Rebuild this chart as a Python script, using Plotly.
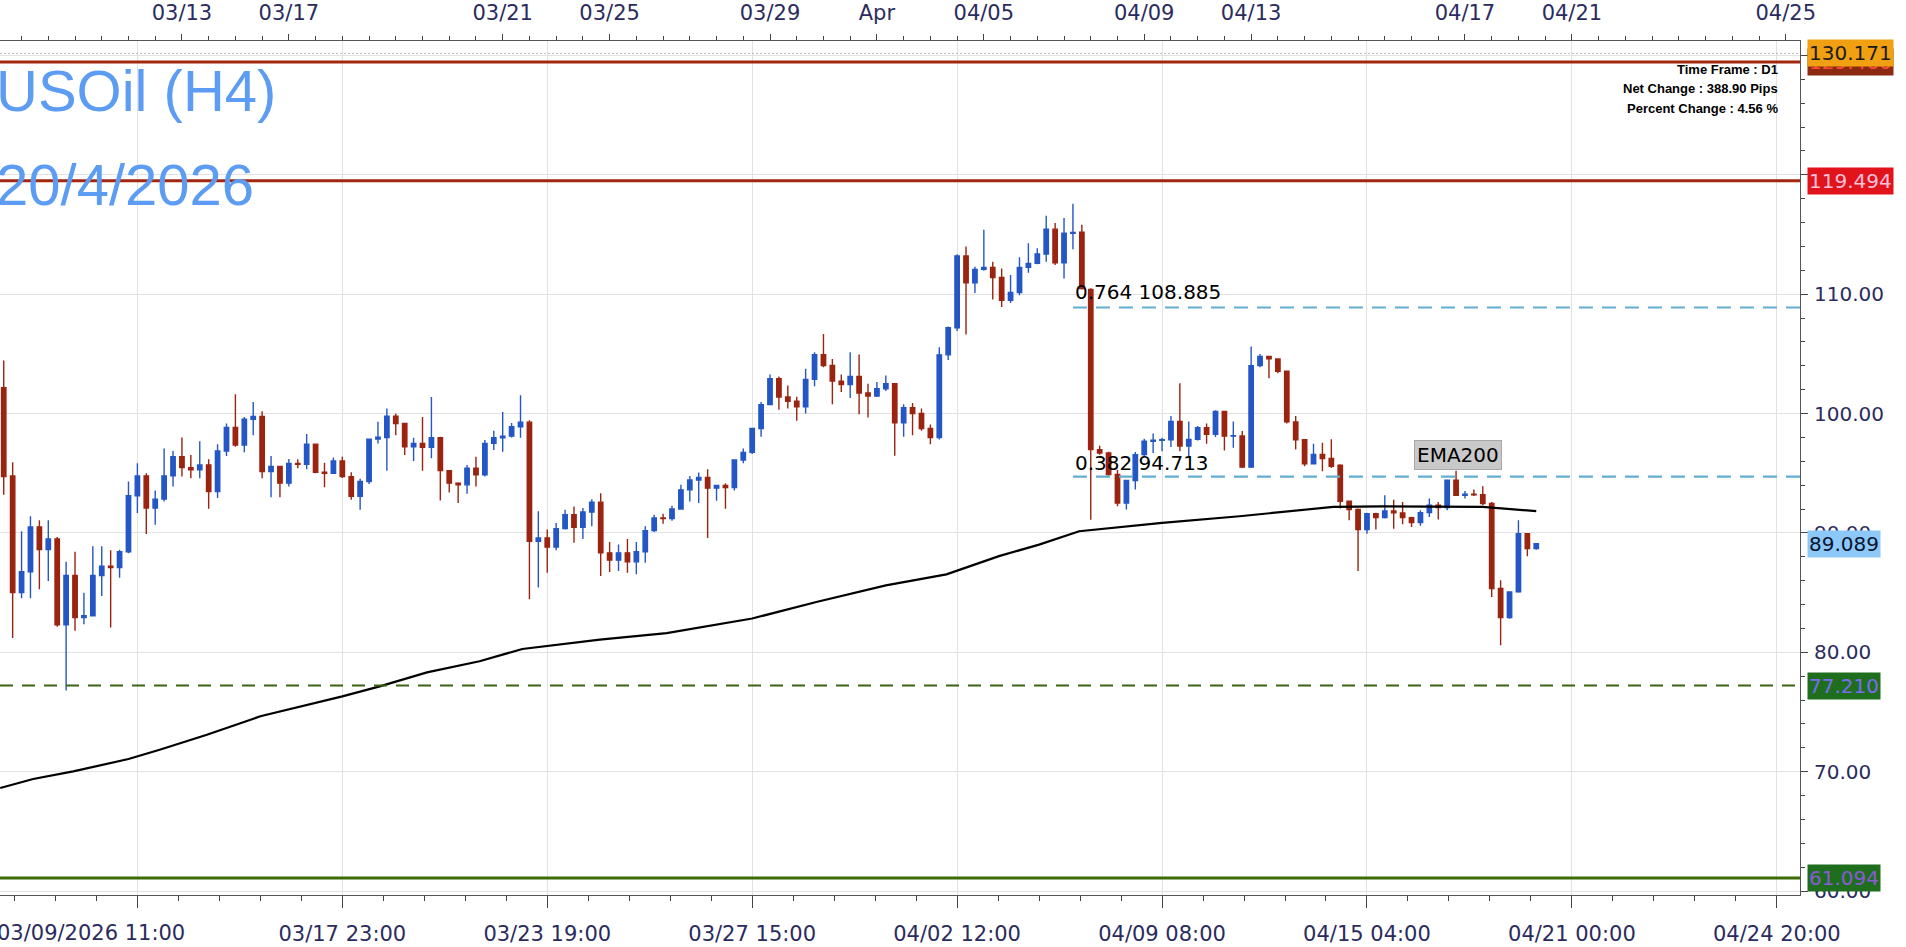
import plotly.graph_objects as go

# ---------------- data ----------------
bar_index = list(range(-15, 158))

opens = [102.17, 94.78, 85.0, 86.75, 90.5, 88.61, 89.5, 82.31, 86.44, 82.92,
         83.06, 86.44, 87.22, 87.1, 88.42, 93.11, 94.78, 92.08, 92.83, 94.78,
         96.39, 95.47, 95.28, 95.69, 93.47, 96.86, 98.83, 97.36, 99.53, 99.75,
         95.14, 95.56, 94.17, 95.83, 95.75, 97.44, 95.08, 95.0, 96.03, 94.72,
         93.06, 94.31, 97.86, 98.0, 99.78, 99.17, 97.22, 97.5, 97.17, 97.97,
         95.22, 94.17, 94.03, 95.42, 94.86, 97.5, 97.97, 98.11, 98.89, 99.28,
         89.31, 89.58, 88.81, 90.36, 91.53, 90.47, 91.75, 92.58, 88.33, 87.72,
         88.33, 87.58, 88.42, 90.19, 91.25, 91.2, 92.0, 93.61, 94.44, 94.64,
         93.75, 93.97, 93.8, 96.11, 96.75, 98.75, 100.75, 102.92, 101.39, 101.03,
         100.56, 102.86, 104.94, 104.03, 102.72, 102.44, 103.11, 101.72, 101.47, 102.08,
         102.5, 99.22, 100.5, 100.0, 98.75, 98.0, 104.92, 107.19, 113.2, 110.96,
         112.08, 112.25, 111.4, 109.49, 110.14, 112.25, 112.58, 113.37, 115.45, 112.64,
         115.11, 115.2, 110.4, 96.98, 96.7, 94.89, 92.51, 94.39, 96.56, 97.68,
         97.77, 97.81, 99.33, 97.28, 97.84, 98.82, 98.26, 100.17, 98.12, 98.12,
         95.53, 104.02, 104.78, 104.58, 103.54, 99.3, 97.81, 95.79, 96.57, 96.24,
         95.67, 92.65, 91.96, 90.28, 91.62, 91.28, 91.84, 91.68, 91.28, 90.87,
         91.7, 92.32, 92.12, 94.41, 93.16, 93.24, 93.2, 92.46, 85.34, 82.91,
         85.06, 89.94, 88.69]

highs = [104.44, 95.92, 90.14, 91.39, 91.06, 91.06, 89.67, 87.58, 88.42, 85.0,
         88.89, 88.89, 88.56, 88.6, 94.3, 95.83, 95.0, 93.56, 97.08, 96.86,
         98.0, 96.53, 97.69, 96.17, 97.42, 99.17, 101.61, 99.72, 100.97, 100.19,
         96.44, 95.6, 96.19, 96.17, 98.28, 97.5, 95.89, 96.33, 96.39, 95.08,
         94.53, 97.9, 99.31, 100.42, 100.0, 99.2, 97.97, 99.72, 101.39, 98.05,
         95.25, 94.25, 95.69, 96.39, 97.78, 98.56, 100.14, 99.22, 101.53, 99.44,
         91.81, 90.28, 90.83, 91.94, 92.22, 92.08, 92.83, 93.33, 89.25, 89.03,
         89.5, 89.25, 90.56, 91.53, 91.61, 92.28, 94.03, 94.78, 95.06, 95.33,
         93.98, 94.17, 96.15, 97.08, 98.8, 100.97, 103.28, 103.11, 102.36, 101.4,
         103.75, 105.14, 106.67, 104.58, 103.28, 105.14, 104.94, 102.5, 102.64, 103.19,
         102.55, 100.78, 100.89, 100.42, 99.08, 105.56, 107.3, 113.34, 113.99, 112.3,
         115.39, 112.72, 112.16, 111.6, 113.09, 114.27, 113.85, 116.57, 115.96, 116.38,
         117.58, 115.81, 110.5, 97.3, 96.8, 95.3, 94.45, 96.79, 97.88, 98.32,
         97.98, 99.8, 102.53, 99.33, 98.96, 99.16, 100.28, 100.2, 99.33, 98.54,
         105.62, 105.0, 104.8, 104.6, 103.6, 99.8, 97.85, 97.47, 97.56, 97.84,
         95.75, 92.7, 92.04, 91.7, 91.7, 93.16, 92.79, 92.6, 91.35, 91.9,
         92.88, 92.6, 94.45, 95.2, 93.52, 93.63, 93.91, 92.6, 86.03, 85.1,
         91.06, 90.0, 89.1]

lows = [93.19, 81.19, 84.53, 84.53, 85.28, 85.97, 82.14, 76.8, 81.8, 82.36,
        83.0, 84.72, 82.08, 86.25, 88.3, 91.67, 89.92, 90.69, 92.64, 93.89,
        94.72, 94.58, 94.58, 92.03, 92.92, 96.44, 97.22, 96.75, 98.19, 94.58,
        93.0, 93.0, 93.89, 95.42, 95.33, 95.0, 93.83, 94.95, 94.6, 92.78,
        91.94, 94.11, 97.5, 95.22, 98.19, 96.53, 96.03, 95.22, 96.25, 92.72,
        93.39, 92.5, 93.28, 93.89, 94.72, 96.94, 96.81, 98.0, 97.97, 84.44,
        85.42, 86.67, 88.56, 90.28, 89.17, 89.5, 90.56, 86.39, 86.72, 86.81,
        86.67, 86.53, 87.5, 90.08, 90.78, 91.03, 91.95, 92.64, 92.5, 89.58,
        92.69, 92.03, 93.56, 95.83, 96.61, 98.06, 100.7, 100.33, 100.42, 99.39,
        100.0, 102.28, 103.89, 100.78, 101.81, 101.31, 99.94, 99.67, 101.39, 101.89,
        96.47, 98.06, 98.19, 98.56, 97.44, 97.83, 104.49, 106.91, 106.63, 110.11,
        111.97, 109.55, 108.93, 109.27, 109.92, 111.8, 112.5, 112.72, 112.44, 111.32,
        113.76, 110.4, 91.1, 96.56, 94.8, 92.23, 91.96, 93.63, 96.42, 96.7,
        96.85, 97.19, 96.85, 96.42, 97.75, 97.47, 98.03, 96.91, 97.13, 95.45,
        95.45, 103.88, 102.95, 103.37, 99.16, 96.99, 95.59, 95.75, 95.17, 95.45,
        92.04, 91.06, 86.82, 89.94, 90.28, 91.2, 90.36, 90.73, 90.5, 90.6,
        91.34, 91.12, 91.9, 93.1, 92.88, 93.1, 92.32, 84.64, 80.6, 82.82,
        85.0, 88.04, 88.6]

closes = [94.72, 85.0, 86.75, 90.5, 88.61, 89.5, 82.31, 86.44, 82.92, 83.06,
          86.44, 87.22, 87.1, 88.42, 93.11, 94.78, 92.08, 92.83, 94.78, 96.39,
          95.47, 95.28, 95.69, 93.47, 96.86, 98.83, 97.36, 99.53, 99.75, 95.14,
          95.56, 94.17, 95.83, 95.75, 97.44, 95.08, 95.0, 96.03, 94.72, 93.06,
          94.31, 97.86, 98.03, 99.78, 99.17, 97.22, 97.5, 97.17, 97.97, 95.22,
          94.17, 94.03, 95.42, 94.86, 97.5, 97.97, 98.11, 98.89, 99.28, 89.31,
          89.58, 88.81, 90.36, 91.53, 90.47, 91.75, 92.58, 88.33, 87.72, 88.33,
          87.58, 88.42, 90.19, 91.25, 91.2, 92.0, 93.61, 94.44, 94.64, 93.75,
          93.97, 93.8, 96.11, 96.75, 98.75, 100.75, 102.92, 101.39, 101.03, 100.56,
          102.86, 104.94, 104.03, 102.72, 102.44, 103.11, 101.72, 101.47, 102.08, 102.5,
          99.22, 100.5, 100.0, 98.75, 98.0, 104.92, 107.19, 113.2, 110.96, 112.08,
          112.25, 111.4, 109.49, 110.14, 112.25, 112.58, 113.37, 115.45, 112.64, 115.11,
          115.17, 110.48, 96.98, 96.7, 94.89, 92.51, 94.39, 96.56, 97.68, 97.77,
          97.81, 99.33, 97.28, 97.84, 98.82, 98.26, 100.17, 98.12, 98.15, 95.53,
          104.02, 104.78, 104.58, 103.54, 99.3, 97.81, 95.79, 96.57, 96.24, 95.59,
          92.65, 91.96, 90.28, 91.62, 91.28, 91.84, 91.68, 91.28, 90.87, 91.7,
          92.32, 92.12, 94.41, 93.16, 93.24, 93.2, 92.46, 85.34, 82.91, 85.06,
          89.94, 88.69, 89.09]

# EMA200 line (bar index, price)
ema_index = [-15.4, -11.7, -7.2, -1.0, 2.5, 7.8, 13.8, 18.2, 23, 27.2, 32.5, 38.4,
             43.2, 51.9, 59.4, 69, 76.2, 84, 90.8, 96.7, 101.2, 105.7, 115, 123.7,
             134.2, 139.8, 151, 157]
ema_value = [68.63, 69.39, 70.03, 71.06, 71.84, 73.1, 74.64, 75.42, 76.31, 77.15,
             78.32, 79.25, 80.28, 81.06, 81.61, 82.83, 84.22, 85.61, 86.53, 88.06,
             89.02, 90.14, 90.84, 91.4, 92.18, 92.23, 92.18, 91.82]

# bottom time axis
bottom_tick_index = [0, 23, 46, 69, 92, 115, 138, 161, 184]
bottom_tick_text = ["", "03/17 23:00", "03/23 19:00", "03/27 15:00", "04/02 12:00",
                    "04/09 08:00", "04/15 04:00", "04/21 00:00", "04/24 20:00"]
first_bar_label = "03/09/2026 11:00"

# top day-separator axis
top_tick_index = [5, 17, 41, 53, 71, 83, 95, 113, 125, 149, 161, 185]
top_tick_text = ["03/13", "03/17", "03/21", "03/25", "03/29", "Apr", "04/05",
                 "04/09", "04/13", "04/17", "04/21", "04/25"]

# horizontal levels
high_marker = 130.171
red_levels = [129.46, 119.494]
fib_ratios = [0.764, 0.382]
fib_levels = [108.885, 94.713]
fib_start_index = 105
green_dashed_level = 77.210
green_solid_level = 61.094
last_price = 89.089

info_lines = ["Time Frame : D1", "Net Change : 388.90 Pips", "Percent Change : 4.56 %"]
title_lines = ["USOil (H4)", "20/4/2026"]

# ---------------- geometry ----------------
W, H = 1906, 947
PL, PR, PT, PB = 0, 1800, 41, 895
Y_RANGE = [59.67, 131.21]
X_RANGE = [-15.42, 186.6]


def xp(px):
    return (px - PL) / (PR - PL)


def yp(py):
    return (PB - py) / (PB - PT)


def val_at(py):
    return Y_RANGE[0] + (PB - py) / (PB - PT) * (Y_RANGE[1] - Y_RANGE[0])


AX_COLOR = "#2b2b5e"
UP = "#2457c5"
DOWN = "#9a2410"

fig = go.Figure()

fig.add_trace(go.Candlestick(
    x=bar_index, open=opens, high=highs, low=lows, close=closes,
    increasing=dict(line=dict(color=UP, width=1.4), fillcolor=UP),
    decreasing=dict(line=dict(color=DOWN, width=1.4), fillcolor=DOWN),
    whiskerwidth=0, showlegend=False, hoverinfo="skip",
))

fig.add_trace(go.Scatter(
    x=ema_index, y=ema_value, mode="lines",
    line=dict(color="#000000", width=2.2), showlegend=False, hoverinfo="skip",
))

# yellow day markers on the top axis
fig.add_trace(go.Scatter(
    x=top_tick_index, y=[val_at(34)] * len(top_tick_index), xaxis="x2", yaxis="y",
    mode="markers", cliponaxis=False,
    marker=dict(symbol="triangle-down", size=12, color="#cbb820",
                line=dict(color="#8a7a00", width=1)),
    showlegend=False, hoverinfo="skip",
))

shapes = []
# high marker dotted line
shapes.append(dict(type="line", xref="paper", x0=0, x1=1, yref="y",
                   y0=high_marker, y1=high_marker,
                   line=dict(color="#b8b8b8", width=1, dash="2px,2px")))
for lv in red_levels:
    shapes.append(dict(type="line", xref="paper", x0=0, x1=1, yref="y", y0=lv, y1=lv,
                       line=dict(color="#a3260f", width=3)))
for lv in fib_levels:
    shapes.append(dict(type="line", xref="x", x0=fib_start_index, x1=X_RANGE[1],
                       yref="y", y0=lv, y1=lv,
                       line=dict(color="#62aed2", width=2.2, dash="14px,9px")))
shapes.append(dict(type="line", xref="paper", x0=0, x1=1, yref="y",
                   y0=green_dashed_level, y1=green_dashed_level,
                   line=dict(color="#3a6410", width=2, dash="13px,9px")))
shapes.append(dict(type="line", xref="paper", x0=0, x1=1, yref="y",
                   y0=green_solid_level, y1=green_solid_level,
                   line=dict(color="#3d6b05", width=3)))

annotations = []
# big title
for txt, cy in zip(title_lines, [91, 185]):
    annotations.append(dict(text=txt, xref="paper", yref="paper", x=xp(-6), y=yp(cy),
                            xanchor="left", yanchor="middle", showarrow=False,
                            font=dict(family="Liberation Sans, Arial", size=58,
                                      color="#5c9cf2")))
# info box
for txt, cy in zip(info_lines, [69, 89, 109]):
    annotations.append(dict(text="<b>" + txt + "</b>", xref="paper", yref="paper",
                            x=xp(1780), y=yp(cy), xanchor="right", yanchor="middle",
                            showarrow=False,
                            font=dict(family="Liberation Sans, Arial", size=13,
                                      color="#000000")))
# fib labels
for r, lv, cy in zip(fib_ratios, fib_levels, [292, 463]):
    annotations.append(dict(text=f"{r:.3f} {lv:.3f}", xref="x", yref="paper",
                            x=fib_start_index, y=yp(cy), xanchor="left",
                            yanchor="middle", showarrow=False,
                            font=dict(family="DejaVu Sans", size=20, color="#000000")))
# EMA200 label
annotations.append(dict(text="EMA200", xref="paper", yref="paper", x=xp(1458), y=yp(455),
                        xanchor="center", yanchor="middle", showarrow=False,
                        bgcolor="#c9c9c9", bordercolor="#a8a8a8", borderwidth=1,
                        borderpad=2,
                        font=dict(family="DejaVu Sans", size=20, color="#000000")))
# first bar time label
annotations.append(dict(text=first_bar_label, xref="paper", yref="paper", x=xp(-5),
                        y=yp(933), xanchor="left", yanchor="middle", showarrow=False,
                        font=dict(family="DejaVu Sans", size=21, color=AX_COLOR)))

# price boxes on the right axis
price_boxes = [
    (f"{red_levels[0]:.3f}", red_levels[0], "#8b2a10", "#ff4a3a"),
    (f"{high_marker:.3f}", high_marker, "#f0a010", "#1a1a1a"),
    (f"{red_levels[1]:.3f}", red_levels[1], "#e0141a", "#ffc0dc"),
    (f"{last_price:.3f}", last_price, "#8cc8f8", "#0a1430"),
    (f"{green_dashed_level:.3f}", green_dashed_level, "#1e6e1e", "#7a6cf0"),
    (f"{green_solid_level:.3f}", green_solid_level, "#1e6e1e", "#8a5ad8"),
]
for txt, v, bg, fg in price_boxes:
    annotations.append(dict(text=txt, xref="paper", yref="y", x=1, y=v, xanchor="left",
                            yanchor="middle", xshift=7, showarrow=False, bgcolor=bg,
                            borderpad=1,
                            font=dict(family="DejaVu Sans", size=20, color=fg)))

fig.update_layout(
    width=W, height=H, autosize=False,
    margin=dict(l=PL, r=W - PR, t=PT, b=H - PB),
    paper_bgcolor="#ffffff", plot_bgcolor="#ffffff",
    showlegend=False, boxgap=0.3,
    shapes=shapes, annotations=annotations,
    xaxis=dict(
        range=X_RANGE, tickmode="array", tickvals=bottom_tick_index,
        ticktext=bottom_tick_text, showgrid=True, gridcolor="#e2e2e2", gridwidth=1,
        zeroline=False, showline=True, linecolor="#555555", linewidth=1,
        ticks="outside", ticklen=12, tickcolor="#444444", ticklabelstandoff=8,
        minor=dict(dtick=4.6, tick0=0, ticklen=5, tickcolor="#444444", showgrid=False),
        tickfont=dict(family="DejaVu Sans", size=21, color=AX_COLOR),
        rangeslider=dict(visible=False), fixedrange=True,
    ),
    xaxis2=dict(
        range=X_RANGE, overlaying="x", side="top", anchor="y",
        tickmode="array", tickvals=top_tick_index, ticktext=top_tick_text,
        showgrid=False, zeroline=False, showline=True, linecolor="#555555",
        ticks="outside", ticklen=6, tickcolor="#444444", ticklabelstandoff=6,
        minor=dict(tickvals=list(range(-13, 187, 3)), ticklen=4, tickcolor="#444444"),
        tickfont=dict(family="DejaVu Sans", size=21, color=AX_COLOR),
    ),
    yaxis=dict(
        range=Y_RANGE, side="right", dtick=10, tick0=0, tickformat=".2f",
        showgrid=True, gridcolor="#e2e2e2", zeroline=False, showline=True,
        linecolor="#555555", ticks="outside", ticklen=7, tickcolor="#444444",
        minor=dict(dtick=2, ticklen=4, tickcolor="#444444", showgrid=False),
        tickfont=dict(family="DejaVu Sans", size=20, color=AX_COLOR),
        ticklabelstandoff=2,
    ),
)

fig.write_html(
    "out.html",
    config={"displayModeBar": False},
    post_script="document.body.style.margin='0';document.documentElement.style.margin='0';"
                "document.body.style.overflow='hidden';",
)
